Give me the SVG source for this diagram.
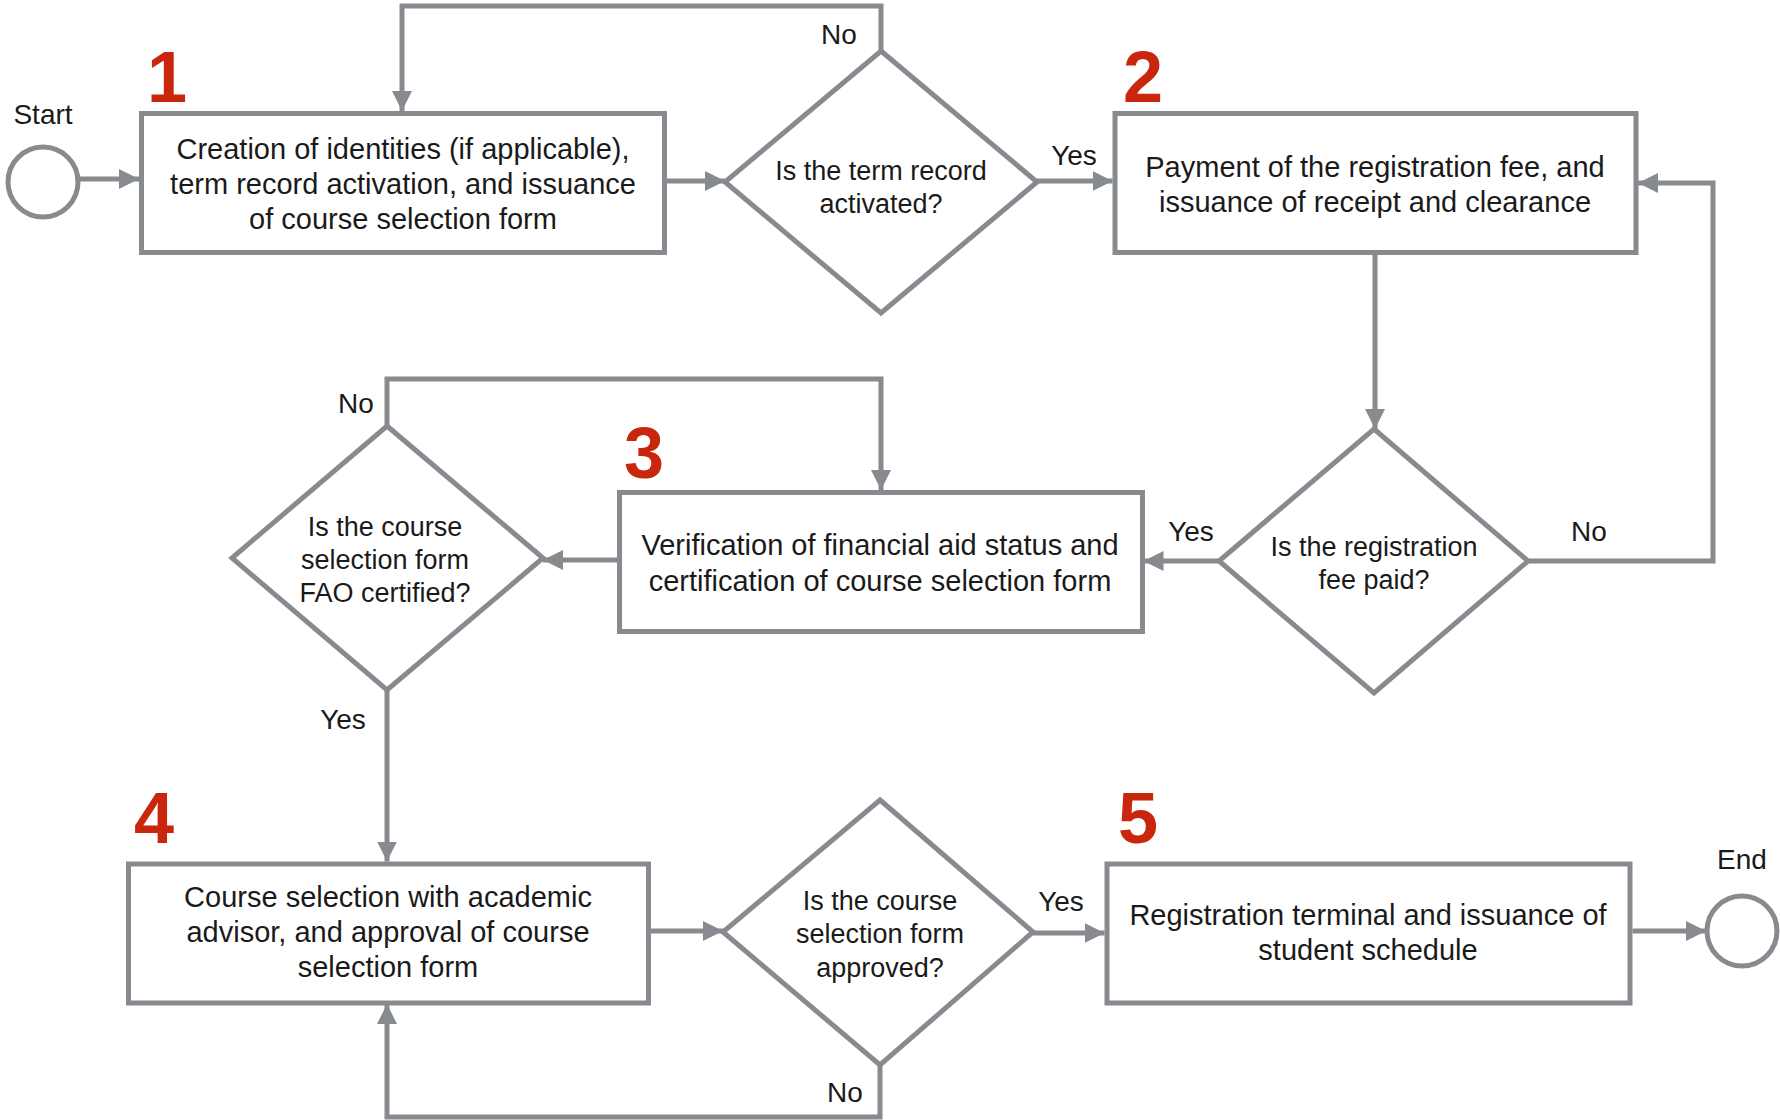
<svg xmlns="http://www.w3.org/2000/svg" width="1780" height="1120" viewBox="0 0 1780 1120">
<defs>
<style>
.box{fill:#fff;stroke:#878A8E;stroke-width:5}
.dia{fill:#fff;stroke:#878A8E;stroke-width:5;stroke-linejoin:miter}
.term{fill:#fff;stroke:#878A8E;stroke-width:5}
.edge{fill:none;stroke:#878A8E;stroke-width:5;marker-end:url(#ah)}
.t{font-family:"Liberation Sans",Arial,sans-serif;font-size:29px;fill:#1a1a1a;text-anchor:middle}
.dt{font-family:"Liberation Sans",Arial,sans-serif;font-size:27px;fill:#1a1a1a;text-anchor:middle}
.lb{font-family:"Liberation Sans",Arial,sans-serif;font-size:28px;fill:#1a1a1a;text-anchor:middle}
.num{font-family:"Liberation Sans",Arial,sans-serif;font-size:72px;font-weight:bold;fill:#C8260D;text-anchor:middle}
</style>
<marker id="ah" markerUnits="userSpaceOnUse" markerWidth="20" markerHeight="20" refX="20" refY="10" orient="auto">
<path d="M0,0 L20,10 L0,20 z" fill="#878A8E"/>
</marker>
</defs>
<rect width="1780" height="1120" fill="#fff"/>

<g id="connectors">
<path class="edge" d="M80 179 H139"/>
<path class="edge" d="M667 181 H725"/>
<path class="edge" d="M881 51 V6 H402 V111"/>
<path class="edge" d="M1037 181 H1112.5"/>
<path class="edge" d="M1375 255 V429"/>
<path class="edge" d="M1528 561 H1713 V183 H1638"/>
<path class="edge" d="M1219 561 H1143.5"/>
<path class="edge" d="M617 560 H543"/>
<path class="edge" d="M387 426 V379 H881 V490"/>
<path class="edge" d="M387 690 V861.5"/>
<path class="edge" d="M651 931 H723"/>
<path class="edge" d="M880 1065 V1117 H387 V1004"/>
<path class="edge" d="M1033 933 H1104.5"/>
<path class="edge" d="M1632.5 931 H1706"/>
</g>

<g id="start">
<circle class="term" cx="43" cy="182" r="35"/>
<text class="lb" x="43" y="124">Start</text>
</g>

<g id="step1">
<rect class="box" x="141.5" y="113.5" width="523" height="139"/>
<text class="num" x="167" y="102">1</text>
<text class="t" x="403" y="159">Creation of identities (if applicable),</text>
<text class="t" x="403" y="194">term record activation, and issuance</text>
<text class="t" x="403" y="229">of course selection form</text>
</g>

<g id="decision1">
<polygon class="dia" points="881,51 1037,182 881,313 725,182"/>
<text class="dt" x="881" y="180">Is the term record</text>
<text class="dt" x="881" y="213">activated?</text>
<text class="lb" x="839" y="44">No</text>
<text class="lb" x="1074" y="165">Yes</text>
</g>

<g id="step2">
<rect class="box" x="1115" y="113.5" width="521" height="139"/>
<text class="num" x="1143" y="102">2</text>
<text class="t" x="1375" y="177">Payment of the registration fee, and</text>
<text class="t" x="1375" y="212">issuance of receipt and clearance</text>
</g>

<g id="decision2">
<polygon class="dia" points="1374,429 1528,561 1374,693 1219,561"/>
<text class="dt" x="1374" y="556">Is the registration</text>
<text class="dt" x="1374" y="589">fee paid?</text>
<text class="lb" x="1191" y="541">Yes</text>
<text class="lb" x="1589" y="541">No</text>
</g>

<g id="step3">
<rect class="box" x="619.5" y="492.5" width="523" height="139"/>
<text class="num" x="644" y="478">3</text>
<text class="t" x="880" y="555">Verification of financial aid status and</text>
<text class="t" x="880" y="591">certification of course selection form</text>
</g>

<g id="decision3">
<polygon class="dia" points="387,426 543,558 387,690 232,558"/>
<text class="dt" x="385" y="536">Is the course</text>
<text class="dt" x="385" y="569">selection form</text>
<text class="dt" x="385" y="602">FAO certified?</text>
<text class="lb" x="356" y="413">No</text>
<text class="lb" x="343" y="729">Yes</text>
</g>

<g id="step4">
<rect class="box" x="128.5" y="864" width="520" height="139"/>
<text class="num" x="154" y="843">4</text>
<text class="t" x="388" y="907">Course selection with academic</text>
<text class="t" x="388" y="942">advisor, and approval of course</text>
<text class="t" x="388" y="977">selection form</text>
</g>

<g id="decision4">
<polygon class="dia" points="880,800 1033,932 880,1065 723,932"/>
<text class="dt" x="880" y="910">Is the course</text>
<text class="dt" x="880" y="943">selection form</text>
<text class="dt" x="880" y="977">approved?</text>
<text class="lb" x="845" y="1102">No</text>
<text class="lb" x="1061" y="911">Yes</text>
</g>

<g id="step5">
<rect class="box" x="1107" y="864" width="523" height="139"/>
<text class="num" x="1138" y="843">5</text>
<text class="t" x="1368" y="925">Registration terminal and issuance of</text>
<text class="t" x="1368" y="960">student schedule</text>
</g>

<g id="end">
<circle class="term" cx="1742" cy="931" r="35"/>
<text class="lb" x="1742" y="869">End</text>
</g>
</svg>
